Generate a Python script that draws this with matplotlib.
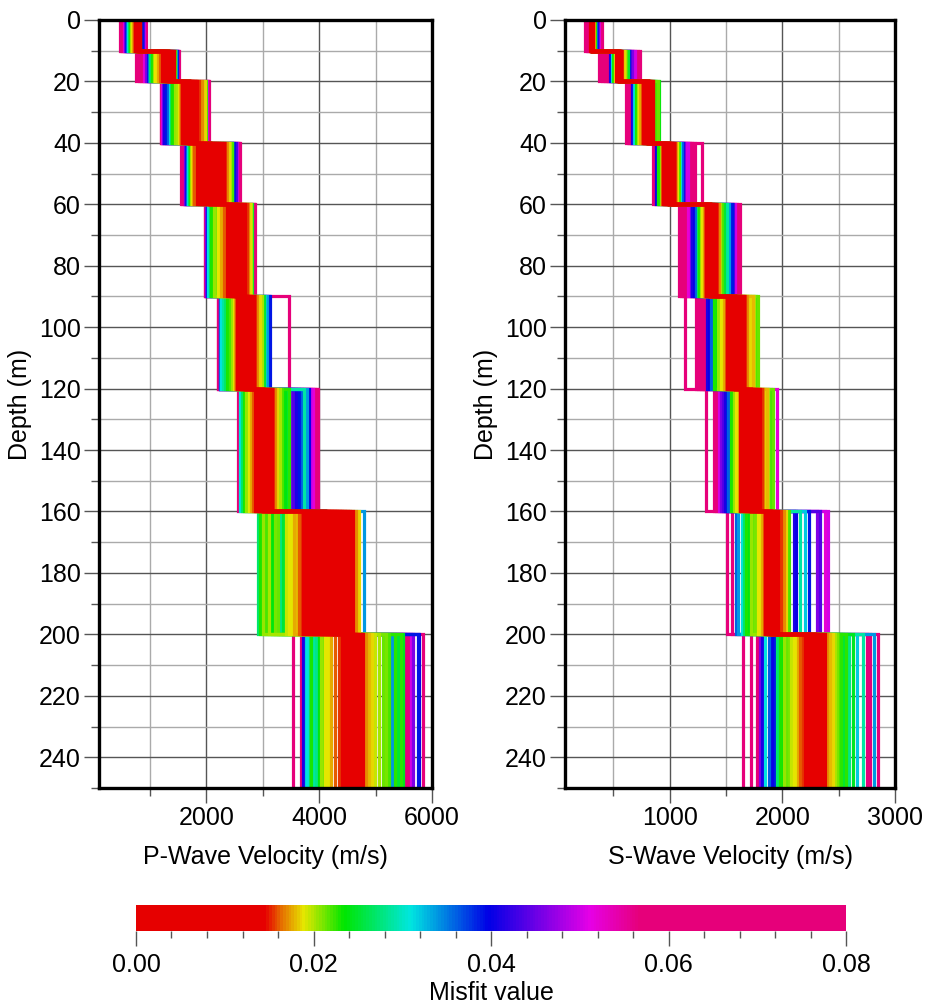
import numpy as np
import matplotlib
matplotlib.use('agg')
import matplotlib.pyplot as plt
from matplotlib.colors import LinearSegmentedColormap, Normalize
from matplotlib.ticker import MultipleLocator
import matplotlib.cm as cm

plt.rcParams['font.family'] = ['Liberation Sans', 'DejaVu Sans']

# layer boundaries (m)
boundaries = [0, 10, 20, 40, 60, 90, 120, 160, 200, 250]

# one misfit value per model (column index of the layer lists below)
misfit = [0.078, 0.074, 0.070, 0.066, 0.062, 0.058, 0.052, 0.050, 0.046, 0.044,
          0.041, 0.039, 0.036, 0.034, 0.031, 0.029, 0.027, 0.025, 0.023, 0.022,
          0.0205, 0.020, 0.019, 0.0185, 0.0175, 0.017, 0.0162, 0.0155,
          0.014, 0.013, 0.012, 0.011, 0.010, 0.009, 0.008, 0.007, 0.006, 0.005,
          0.004, 0.003, 0.002, 0.001,
          0.024, 0.0215, 0.021, 0.0195, 0.0188, 0.018, 0.028, 0.032, 0.040,
          0.0135, 0.0115, 0.0085, 0.0055, 0.0025, 0.0005,
          0.0225, 0.0228, 0.0245, 0.021]

# P-wave velocity of every model in each layer (m/s)
vp_0_10 = [466, 938, 490, 922, 515, 905, 540, 890, 558, 880, 575, 868, 592, 790, 608, 790, 625, 790, 645, 790,
           665, 790, 685, 790, 705, 790, 725, 790,
           745, 752, 759, 766, 773, 780, 787, 794, 801, 808, 815, 822, 828, 834,
           790, 790, 790, 790, 790, 790, 790, 790, 790,
           790, 790, 790, 790, 790, 790, 790, 790, 790, 790]
vp_10_20 = [761, 1510, 805, 1503, 850, 1496, 895, 1490, 930, 1484, 962, 1475, 980, 1462, 997, 1450, 1012, 1443, 1040, 1438,
            1068, 1320, 1100, 1320, 1140, 1198, 1180, 1432,
            1215, 1231, 1247, 1263, 1279, 1295, 1311, 1327, 1343, 1359, 1375, 1391, 1407, 1422,
            1054, 1320, 1084, 1320, 1120, 1160, 1320, 1320, 1320,
            1320, 1320, 1320, 1320, 1320, 1320, 1320, 1320, 1320, 1320]
vp_20_40 = [1198, 2041, 1202, 2032, 1208, 2024, 1216, 2015, 1228, 1700, 1250, 1290, 1320, 1700, 1350, 1700, 1375, 1700, 1400, 2000,
            1440, 1475, 1510, 1982, 1535, 1920, 1555, 1865,
            1569, 1590, 1610, 1630, 1651, 1671, 1692, 1712, 1733, 1753, 1774, 1794, 1815, 1835,
            1425, 1700, 1700, 1700, 1700, 1700, 1700, 1700, 1700,
            1700, 1700, 1700, 1700, 1700, 1700, 1700, 1700, 1700, 1700]
vp_40_60 = [1552, 2602, 1578, 2585, 1603, 2566, 1620, 2545, 1632, 2520, 1646, 2498, 1660, 2070, 1676, 2450, 1690, 2450, 1705, 2450,
            1725, 2427, 1746, 2400, 1768, 2370, 1792, 2338,
            1835, 1871, 1908, 1944, 1980, 2017, 2053, 2089, 2126, 2162, 2198, 2235, 2271, 2307,
            2070, 2070, 2070, 2070, 2070, 2070, 2070, 2070, 2070,
            2070, 2070, 2070, 2070, 2070, 2070, 2070, 2070, 2070, 2070]
vp_60_90 = [1982, 2867, 1986, 2852, 1990, 2840, 1995, 2530, 2003, 2530, 2012, 2530, 2025, 2530, 2040, 2530, 2060, 2812, 2085, 2800,
            2130, 2785, 2200, 2767, 2255, 2745, 2310, 2720,
            2366, 2391, 2416, 2441, 2466, 2491, 2516, 2541, 2566, 2591, 2616, 2641, 2666, 2690,
            2108, 2530, 2165, 2530, 2230, 2285, 2530, 2530, 2530,
            2530, 2530, 2530, 2530, 2530, 2530, 2530, 2530, 2530, 2530]
vp_90_120 = [2200, 3469, 2200, 2690, 2250, 2690, 2250, 2690, 2250, 2690, 2250, 3128, 2250, 3085, 2255, 2295, 2335, 3020, 2375, 2415,
             2450, 2980, 2485, 2945, 2510, 2905, 2530, 2862,
             2543, 2566, 2588, 2611, 2634, 2656, 2679, 2702, 2724, 2747, 2770, 2792, 2815, 2838,
             2690, 2690, 2690, 2690, 2690, 2690, 2690, 3050, 3110,
             2690, 2690, 2690, 2690, 2690, 2690, 2690, 2690, 2690, 2690]
vp_120_160 = [2555, 3988, 3010, 3960, 3010, 3930, 3890, 3860, 3505, 3540, 3590, 3640, 3690, 3790, 2600, 3740, 2635, 3430, 2670, 3350,
              2710, 3300, 2750, 3255, 2790, 3215, 2830, 3185,
              2867, 2890, 2912, 2935, 2958, 2980, 3003, 3026, 3048, 3071, 3094, 3116, 3139, 3162,
              3390, 3010, 3010, 3010, 3010, 3010, 3010, 3010, 3815,
              3010, 3010, 3010, 3010, 3010, 3010, 3470, 3010, 3010, 3010]
vp_160_200 = [4100, 4100, 4100, 4100, 4100, 4100, 4100, 4100, 4100, 4100, 4100, 4100, 4100, 4800, 4100, 4100, 2909, 3360, 2955, 3055,
              3005, 3110, 3460, 4700, 3560, 4650, 3645, 3690,
              3723, 3769, 3815, 3861, 3907, 3953, 3999, 4045, 4091, 4137, 4183, 4229, 4275, 4321,
              3165, 3265, 3215, 3410, 3510, 3600, 3315, 4100, 4100,
              4367, 4413, 4459, 4505, 4551, 4600, 4100, 4100, 4100, 4100]
vp_200_250 = [3534, 5847, 3680, 5570, 4600, 5525, 4600, 5620, 5670, 4600, 3723, 5745, 4600, 5290, 3790, 3910, 3830, 5400, 3860, 5240,
              4030, 5060, 4110, 4930, 4210, 4830, 4280, 4350,
              4400, 4430, 4459, 4489, 4518, 4548, 4578, 4607, 4637, 4666, 4696, 4726, 4755, 4785,
              3990, 5140, 4070, 4990, 4150, 4880, 3950, 3760, 5770,
              4600, 4600, 4600, 4600, 4600, 4600, 5340, 5450, 5490, 5190]

# S-wave velocity of every model in each layer (m/s)
vs_0_10 = [247, 402, 262, 390, 275, 380, 370, 308, 360, 308, 352, 308, 345, 308, 308, 308, 308, 308, 333, 308,
           308, 308, 327, 308, 308, 308, 308, 308,
           295, 297, 299, 301, 303, 305, 307, 309, 311, 313, 315, 317, 319, 321,
           308, 308, 308, 308, 308, 308, 308, 308, 308,
           308, 308, 308, 308, 308, 308, 308, 308, 308, 308]
vs_10_20 = [373, 740, 398, 715, 423, 448, 678, 690, 665, 650, 467, 637, 548, 548, 490, 548, 548, 625, 500, 615,
            548, 602, 511, 590, 548, 548, 520, 579,
            526, 529, 533, 536, 540, 543, 547, 550, 554, 557, 561, 564, 567, 570,
            548, 548, 548, 548, 548, 548, 548, 548, 478,
            548, 548, 548, 548, 548, 548, 548, 548, 548, 548]
vs_20_40 = [614, 805, 628, 805, 642, 655, 805, 805, 805, 805, 667, 805, 863, 805, 690, 805, 872, 805, 702, 882,
            715, 805, 730, 805, 740, 805, 750, 855,
            761, 768, 775, 781, 788, 795, 802, 808, 815, 822, 829, 836, 842, 849,
            908, 895, 805, 805, 805, 805, 805, 680, 805,
            805, 805, 805, 805, 805, 805, 805, 805, 805, 805]
vs_40_60 = [855, 1283, 868, 1222, 1200, 1180, 1145, 1160, 1130, 990, 1118, 990, 1105, 990, 1092, 990, 990, 990, 893, 1078,
            918, 990, 1066, 990, 1058, 990, 928, 1050,
            937, 945, 953, 961, 969, 977, 985, 992, 1000, 1008, 1016, 1024, 1032, 1040,
            906, 990, 990, 990, 990, 990, 990, 990, 880,
            990, 990, 990, 990, 990, 990, 990, 990, 990, 990]
vs_60_90 = [1078, 1627, 1100, 1595, 1122, 1144, 1166, 1575, 1185, 1565, 1200, 1554, 1232, 1530, 1495, 1510, 1248, 1480, 1262, 1466,
            1276, 1450, 1290, 1360, 1300, 1436, 1310, 1421,
            1319, 1326, 1333, 1339, 1346, 1353, 1360, 1366, 1373, 1380, 1387, 1393, 1400, 1407,
            1360, 1360, 1360, 1360, 1360, 1360, 1360, 1360, 1218,
            1360, 1360, 1360, 1360, 1360, 1360, 1360, 1360, 1360, 1360]
vs_90_120 = [1134, 1580, 1231, 1280, 1255, 1305, 1580, 1580, 1580, 1580, 1333, 1580, 1365, 1580, 1580, 1580, 1580, 1580, 1392, 1765,
             1425, 1750, 1455, 1716, 1485, 1690, 1498, 1672,
             1510, 1521, 1533, 1544, 1555, 1567, 1578, 1589, 1600, 1612, 1623, 1634, 1646, 1657,
             1410, 1780, 1440, 1580, 1470, 1735, 1580, 1580, 1350,
             1580, 1580, 1580, 1580, 1580, 1580, 1580, 1580, 1580, 1580]
vs_120_160 = [1325, 1720, 1395, 1720, 1415, 1720, 1950, 1435, 1455, 1472, 1490, 1505, 1520, 1720, 1720, 1720, 1720, 1720, 1540, 1895,
              1572, 1875, 1588, 1845, 1615, 1828, 1720, 1815,
              1627, 1641, 1654, 1668, 1681, 1695, 1709, 1722, 1736, 1750, 1763, 1777, 1790, 1804,
              1558, 1915, 1720, 1720, 1603, 1860, 1720, 1720, 1720,
              1720, 1720, 1720, 1720, 1720, 1720, 1720, 1720, 1720, 1720]
vs_160_200 = [1510, 1900, 1550, 1900, 1900, 1900, 2380, 2405, 2305, 2330, 2100, 2236, 1590, 1610, 1640, 2160, 1660, 1900, 1680, 2055,
              1720, 1900, 1785, 2030, 1820, 2010, 1835, 1985,
              1847, 1856, 1865, 1874, 1883, 1892, 1901, 1911, 1920, 1929, 1938, 1947, 1956, 1965,
              1700, 1740, 1760, 1900, 1805, 1900, 1900, 2200, 2125,
              1900, 1900, 1900, 1900, 1900, 1900, 1900, 1900, 1900, 1900]
vs_200_250 = [1648, 2847, 1722, 2750, 1778, 2775, 2290, 2290, 1805, 2290, 1820, 1930, 1880, 2815, 1850, 2714, 1955, 2540, 1975, 2495,
              2015, 2470, 2100, 2445, 2140, 2395, 2160, 2180,
              2200, 2214, 2227, 2241, 2254, 2268, 2281, 2295, 2308, 2322, 2335, 2349, 2362, 2376,
              1995, 2040, 2060, 2080, 2120, 2420, 2590, 2660, 1910,
              2290, 2290, 2290, 2290, 2290, 2290, 2520, 2565, 2630, 2483]

vp_layers = [vp_0_10, vp_10_20, vp_20_40, vp_40_60, vp_60_90, vp_90_120, vp_120_160, vp_160_200, vp_200_250]
vs_layers = [vs_0_10, vs_10_20, vs_20_40, vs_40_60, vs_60_90, vs_90_120, vs_120_160, vs_160_200, vs_200_250]

# misfit colour scale
scale_pos = [0.0, 0.0145, 0.0164, 0.0188, 0.0234, 0.0309, 0.0397, 0.0512, 0.0568, 0.08]
scale_col = ['#e60000', '#e60000', '#e67300', '#e6e600', '#00e600', '#00e6e0',
             '#0000e6', '#e600e6', '#e6007a', '#e6007a']

vmax = 0.08
cmap = LinearSegmentedColormap.from_list('misfit', [(p / vmax, c) for p, c in zip(scale_pos, scale_col)])
norm = Normalize(0, vmax)


def draw_profiles(ax, layers):
    d = np.repeat(boundaries, 2)[1:-1]
    # worst models first, best (red) ones end up on top
    for i in np.argsort(misfit, kind='stable')[::-1]:
        v = np.repeat([layer[i] for layer in layers], 2)
        ax.plot(v, d, color=cmap(norm(misfit[i])), lw=2.3,
                solid_joinstyle='miter', solid_capstyle='butt', zorder=2)


def style_axes(ax, xlim, major, minor, xlabel):
    ax.set_xlim(*xlim)
    ax.set_ylim(250, 0)
    ax.xaxis.set_major_locator(MultipleLocator(major))
    ax.xaxis.set_minor_locator(MultipleLocator(minor))
    ax.yaxis.set_major_locator(MultipleLocator(20))
    ax.yaxis.set_minor_locator(MultipleLocator(10))
    ax.grid(which='major', color='#555555', lw=1.0)
    ax.grid(which='minor', color='#aaaaaa', lw=1.0)
    ax.set_axisbelow(True)
    for s in ax.spines.values():
        s.set_linewidth(2.4)
        s.set_color('black')
    ax.tick_params(which='major', length=11, width=1, color='#555555', labelsize=18, pad=2)
    ax.tick_params(which='minor', length=6, width=1, color='#555555')
    ax.set_xlabel(xlabel, fontsize=18, labelpad=11)
    ax.set_ylabel('Depth (m)', fontsize=18, labelpad=5)


fig = plt.figure(figsize=(9.27, 10.07), dpi=100)
ax1 = fig.add_axes([0.1068, 0.2175, 0.3592, 0.7627])
ax2 = fig.add_axes([0.6095, 0.2175, 0.3560, 0.7627])

draw_profiles(ax1, vp_layers)
draw_profiles(ax2, vs_layers)
style_axes(ax1, (100, 6000), 2000, 1000, 'P-Wave Velocity (m/s)')
style_axes(ax2, (70, 3000), 1000, 500, 'S-Wave Velocity (m/s)')

cax = fig.add_axes([0.1467, 0.0755, 0.766, 0.0258])
sm = cm.ScalarMappable(norm=norm, cmap=cmap)
cb = fig.colorbar(sm, cax=cax, orientation='horizontal')
cb.outline.set_visible(False)
cb.set_ticks([0.0, 0.02, 0.04, 0.06, 0.08])
cb.set_ticklabels(['0.00', '0.02', '0.04', '0.06', '0.08'])
cax.xaxis.set_minor_locator(MultipleLocator(0.004))
cax.tick_params(which='major', length=11, width=1, color='#555555', labelsize=18, pad=5)
cax.tick_params(which='minor', length=5, width=1, color='#555555')
cb.set_label('Misfit value', fontsize=18, labelpad=3)

fig.savefig('out.png', dpi=100)
